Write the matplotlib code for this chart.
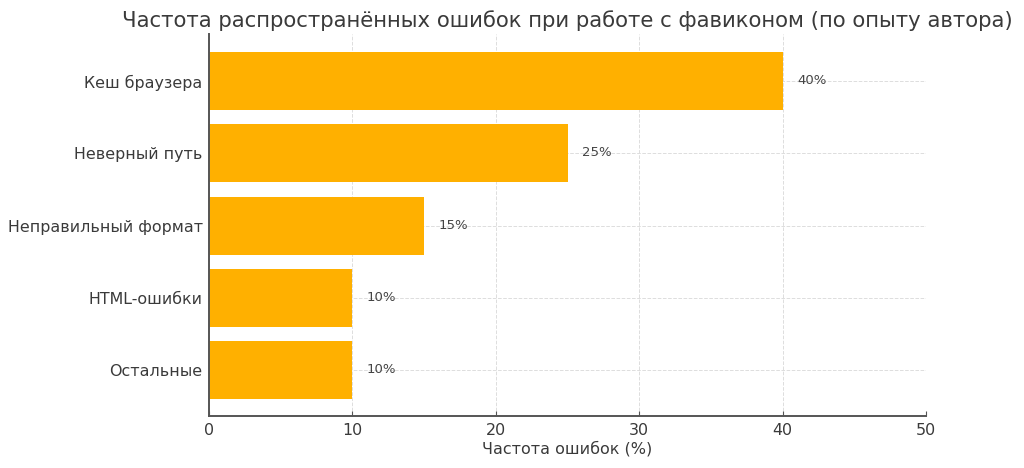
import matplotlib
matplotlib.use("Agg")
import matplotlib.pyplot as plt

categories = ["Кеш браузера", "Неверный путь", "Неправильный формат", "HTML-ошибки", "Остальные"]
values = [40, 25, 15, 10, 10]
labels = ["40%", "25%", "15%", "10%", "10%"]

plt.rcParams['font.family'] = ['DejaVu Sans']
fig = plt.figure(figsize=(10.24, 4.68), dpi=100, facecolor='white')
ax = fig.add_axes([209/1024, 1-416/468, (926-209)/1024, (416-34)/468])
ax.barh(categories, values, height=0.8, color='#FFB000', zorder=3)
ax.invert_yaxis()
ax.set_xlim(0, 50)
ax.set_ylim(4.63, -0.65)
ax.grid(True, color='#dddddd', linestyle='--', linewidth=0.7, zorder=0)
for s in ['top', 'right']:
    ax.spines[s].set_visible(False)
for s in ['left', 'bottom']:
    ax.spines[s].set_color('#555555')
    ax.spines[s].set_linewidth(1.4)
    ax.spines[s].set_zorder(5)
ax.tick_params(axis='both', direction='in', colors='#555555', labelcolor='#3a3a3a',
               labelsize=11.4, length=3.5, width=0.8, zorder=5)
ax.tick_params(axis='y', pad=4.5)
ax.tick_params(axis='x', pad=5)
for i, (v, t) in enumerate(zip(values, labels)):
    ax.text(v + 1, i - 0.01, t, va='center', ha='left', fontsize=9.5, color='#444444', zorder=4)
ax.set_xlabel("Частота ошибок (%)", fontsize=11.5, color='#3a3a3a', labelpad=2)
fig.text(567.5/1024, 1-21/468, "Частота распространённых ошибок при работе с фавиконом (по опыту автора)",
         ha='center', va='center', fontsize=15.35, color='#3a3a3a')
fig.savefig("out.png", dpi=100)
